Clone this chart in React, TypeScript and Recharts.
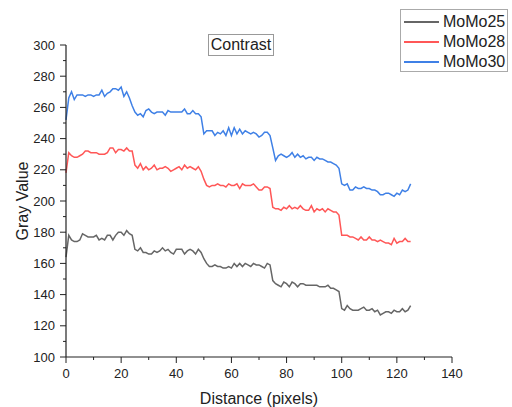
import React from 'react'
import { LineChart, Line, XAxis, YAxis } from 'recharts'

// gray value profiles, one value per pixel (0..125)
const momo25 = [
  164, 178, 175, 174, 174, 175, 179, 178, 177, 177, 177, 178, 175, 176, 175, 178, 178, 175, 178, 180,
  180, 178, 181, 179, 178, 169, 168, 170, 167, 167, 166, 166, 168, 167, 168, 170, 168, 169, 167, 166,
  169, 169, 169, 166, 168, 169, 168, 166, 169, 167, 163, 160, 158, 158, 159, 158, 158, 157, 157, 158,
  157, 160, 158, 160, 158, 160, 159, 158, 160, 159, 159, 158, 157, 160, 159, 149, 147, 146, 145, 148,
  147, 145, 148, 147, 145, 147, 147, 146, 146, 146, 146, 146, 145, 145, 145, 146, 144, 144, 143, 142,
  131, 130, 133, 131, 130, 130, 130, 131, 132, 130, 130, 131, 129, 130, 127, 128, 129, 129, 128, 130,
  129, 129, 131, 129, 130, 133,
]
const momo28 = [
  218, 231, 229, 228, 228, 229, 230, 232, 232, 231, 231, 231, 230, 230, 230, 231, 234, 234, 231, 233,
  233, 232, 234, 232, 232, 223, 221, 224, 220, 222, 220, 221, 223, 220, 221, 221, 222, 221, 219, 220,
  221, 222, 220, 223, 221, 222, 221, 220, 222, 219, 214, 210, 209, 210, 210, 211, 210, 210, 209, 211,
  210, 210, 211, 208, 211, 210, 210, 210, 211, 209, 207, 207, 209, 209, 208, 196, 195, 195, 194, 196,
  195, 197, 195, 196, 195, 197, 195, 194, 194, 197, 193, 195, 194, 195, 193, 195, 194, 193, 193, 191,
  178, 178, 178, 177, 177, 176, 175, 177, 175, 175, 177, 175, 175, 174, 175, 174, 173, 173, 172, 176,
  173, 174, 174, 176, 174, 174,
]
const momo30 = [
  252, 266, 270, 265, 268, 268, 268, 267, 268, 268, 267, 268, 268, 271, 267, 269, 270, 272, 272, 271,
  273, 267, 270, 266, 261, 257, 255, 256, 254, 258, 259, 257, 256, 257, 257, 257, 255, 258, 257, 257,
  257, 257, 257, 259, 256, 256, 258, 256, 256, 254, 243, 245, 245, 245, 242, 244, 243, 245, 242, 247,
  242, 247, 243, 246, 243, 245, 244, 243, 244, 243, 241, 242, 244, 244, 242, 234, 226, 229, 230, 229,
  228, 229, 231, 228, 230, 228, 229, 227, 228, 228, 226, 228, 227, 227, 226, 225, 225, 224, 223, 221,
  211, 210, 211, 207, 207, 209, 208, 208, 209, 208, 208, 207, 207, 206, 204, 204, 205, 205, 204, 203,
  205, 204, 207, 206, 207, 211,
]

const xTicks = [0, 10, 20, 30, 40, 50, 60, 70, 80, 90, 100, 110, 120, 130, 140]
const yTicks = [100, 110, 120, 130, 140, 150, 160, 170, 180, 190, 200, 210, 220, 230, 240, 250, 260, 270, 280, 290, 300]

const SERIES = [
  { key: 'MoMo25', values: momo25, color: '#666666' },
  { key: 'MoMo28', values: momo28, color: '#ff5757' },
  { key: 'MoMo30', values: momo30, color: '#3f80e6' },
]

const data = momo25.map((_, i) => ({
  x: i,
  MoMo25: momo25[i],
  MoMo28: momo28[i],
  MoMo30: momo30[i],
}))

const FONT = '"Liberation Sans", Arial, sans-serif'

// major ticks get a label, minor ones only a short mark
function YTick({ x, y, payload }: { x?: number; y?: number; payload?: { value: number } }) {
  const v = payload?.value ?? 0
  const major = v % 20 === 0
  return (
    <g>
      <line x1={x! - (major ? 6 : 3)} y1={y} x2={x} y2={y} stroke="#222" strokeWidth={1} />
      {major && (
        <text x={x! - 11} y={y} dy={4.5} textAnchor="end" fontSize={13} fontFamily={FONT} fill="#222">{v}</text>
      )}
    </g>
  )
}

function XTick({ x, y, payload }: { x?: number; y?: number; payload?: { value: number } }) {
  const v = payload?.value ?? 0
  const major = v % 20 === 0
  return (
    <g>
      <line x1={x} y1={y} x2={x} y2={y! + (major ? 6 : 3)} stroke="#222" strokeWidth={1} />
      {major && (
        <text x={x} y={y! + 21} textAnchor="middle" fontSize={13} fontFamily={FONT} fill="#222">{v}</text>
      )}
    </g>
  )
}

export default function App() {
  return (
    <div style={{ position: 'absolute', left: 0, top: 0, width: 512, height: 407, background: '#fff', fontFamily: FONT }}>
      <LineChart width={512} height={407} data={data} margin={{ top: 45, right: 60, left: 0, bottom: 0 }}>
        <XAxis
          dataKey="x" type="number" domain={[0, 140]} ticks={xTicks} interval={0}
          height={50} tickSize={0} tickMargin={0} tickLine={false}
          axisLine={{ stroke: '#222', strokeWidth: 1.2 }} tick={<XTick />}
          label={{ value: 'Distance (pixels)', position: 'insideBottom', offset: 3, fontSize: 16, fontFamily: FONT, fill: '#222' }}
        />
        <YAxis
          type="number" domain={[100, 300]} ticks={yTicks} interval={0}
          width={66} tickSize={0} tickMargin={0} tickLine={false}
          axisLine={{ stroke: '#222', strokeWidth: 1.2 }} tick={<YTick />}
          label={{ value: 'Gray Value', angle: -90, position: 'insideLeft', offset: 22, fontSize: 16, fontFamily: FONT, fill: '#222', style: { textAnchor: 'middle' } }}
        />
        {SERIES.map(s => (
          <Line key={s.key} dataKey={s.key} stroke={s.color} strokeWidth={1.5} dot={false} isAnimationActive={false} />
        ))}
      </LineChart>

      {/* title box */}
      <div style={{
        position: 'absolute', left: 208, top: 34, width: 64, height: 20, border: '1px solid #999',
        fontSize: 16, lineHeight: '20px', textAlign: 'center', color: '#222', background: '#fff',
      }}>Contrast</div>

      {/* legend */}
      <div style={{
        position: 'absolute', left: 400, top: 9, width: 106, height: 61, border: '1px solid #aaa', background: '#fff',
      }}>
        {SERIES.map((s, i) => (
          <div key={s.key} style={{ position: 'absolute', left: 0, top: 2 + i * 20, height: 20, width: 106 }}>
            <div style={{ position: 'absolute', left: 3, top: 9, width: 35, height: 2, background: s.color }} />
            <div style={{ position: 'absolute', left: 42, top: 0, fontSize: 16, lineHeight: '20px', color: '#222' }}>{s.key}</div>
          </div>
        ))}
      </div>
    </div>
  )
}
